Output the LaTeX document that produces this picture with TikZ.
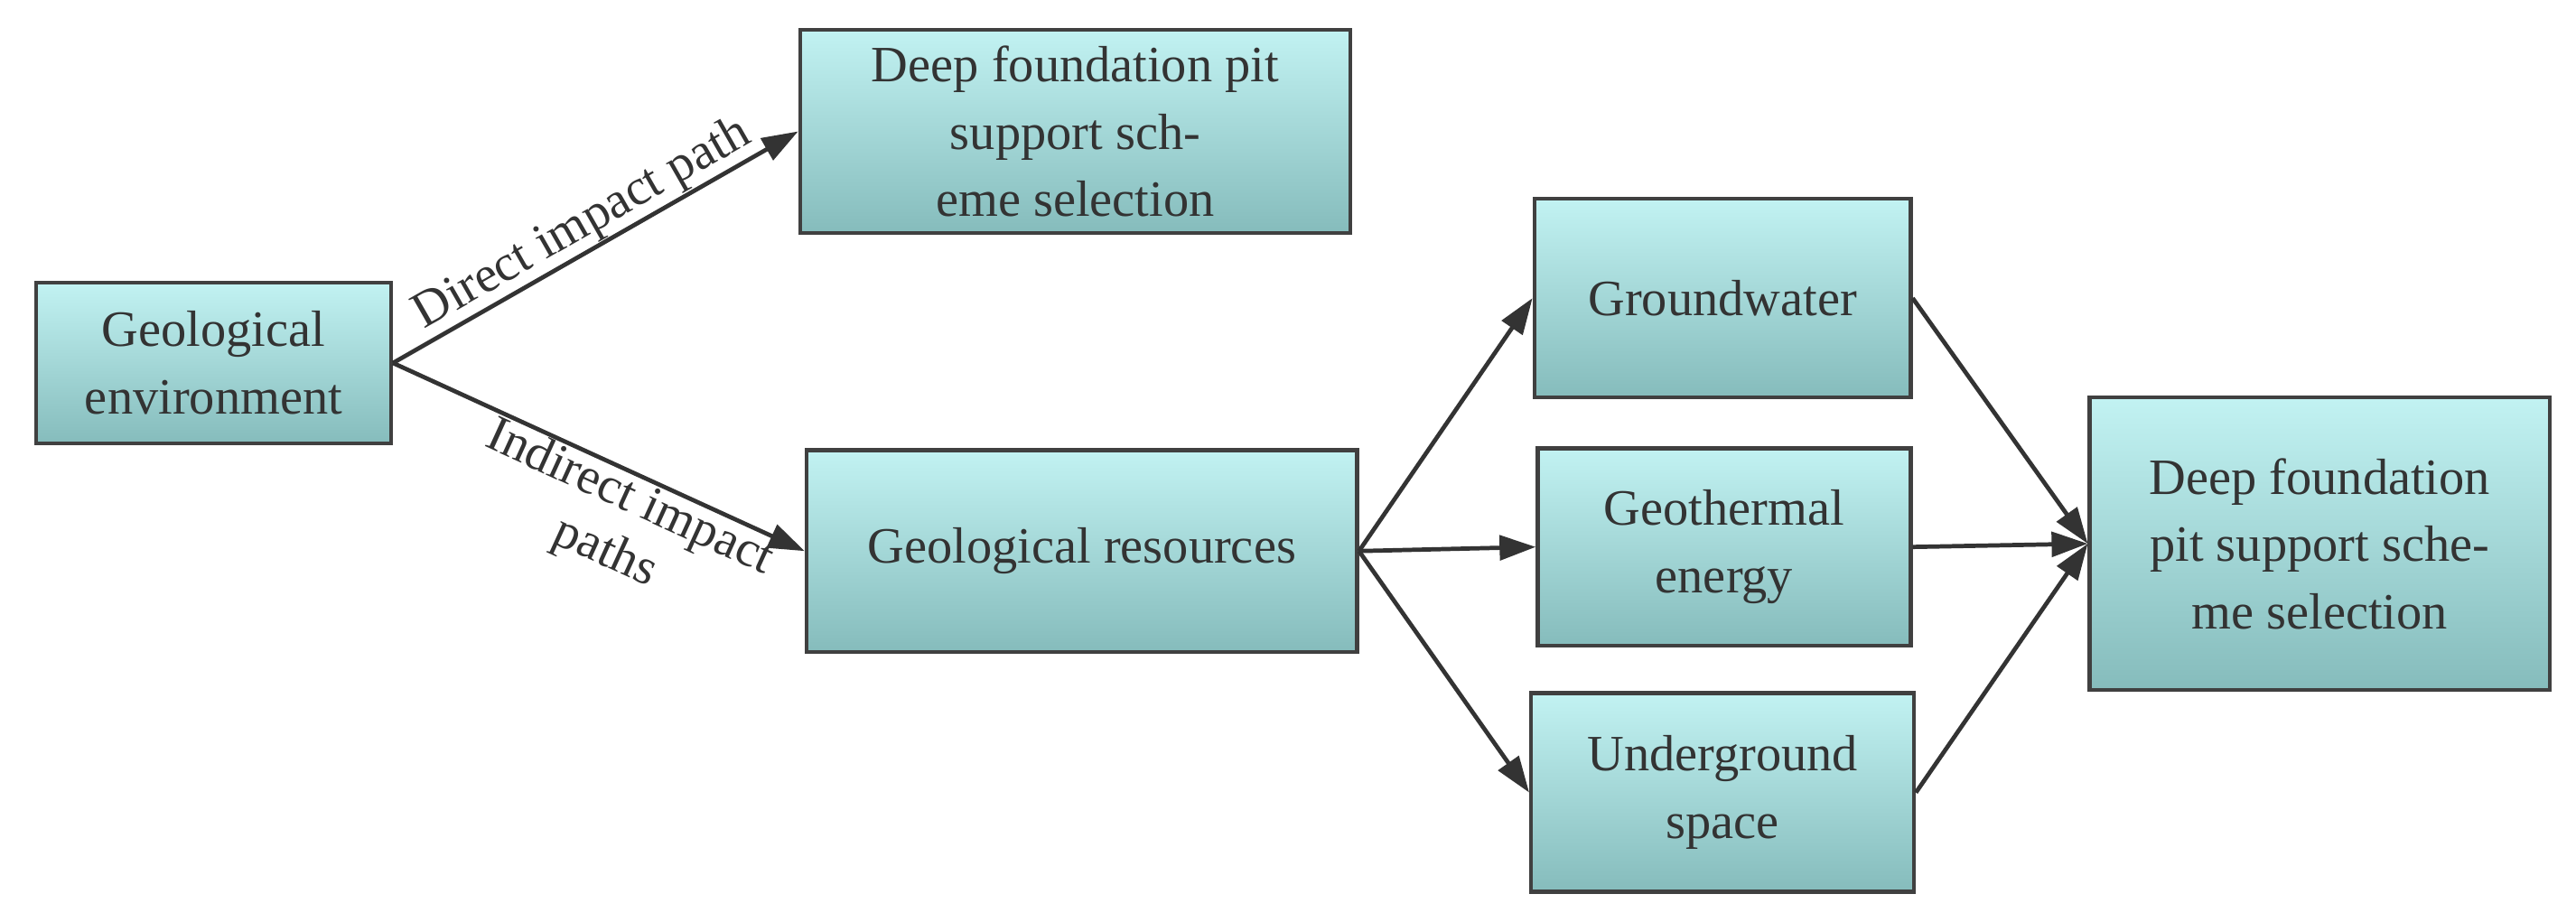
\documentclass[tikz,border=0pt]{standalone}
\usepackage{fontspec}
\setmainfont{Liberation Serif}
\usetikzlibrary{arrows.meta}
\begin{document}
\begin{tikzpicture}[x=1pt,y=-1pt,
 box/.style={draw=black!75,line width=2.4pt,top color=cyan!20!white!95!black,bottom color=teal!45!white!95!black,align=center,font=\fontsize{31}{41}\selectfont,text=black!80,inner sep=0pt},
 arr/.style={draw=black!80,line width=2.6pt,-{Triangle[length=22pt,width=15pt]}},
 lab/.style={font=\fontsize{31}{36}\selectfont,text=black!80,sloped,align=center}]
\useasboundingbox (0,0) rectangle (1568,561);
\node[box,minimum width=216pt,minimum height=98pt] (ge) at (130,221) {Geological\\environment};
\node[box,minimum width=335pt,minimum height=124pt] (top) at (654.5,80) {Deep foundation pit\\support sch-\\eme selection};
\node[box,minimum width=335pt,minimum height=123pt] (gr) at (658.5,335.5) {Geological resources};
\node[box,minimum width=229pt,minimum height=121pt] (gw) at (1048.5,181.5) {Groundwater};
\node[box,minimum width=227pt,minimum height=120pt] (gt) at (1049.5,333) {Geothermal\\energy};
\node[box,minimum width=233pt,minimum height=121pt] (us) at (1048.5,482.5) {Underground\\space};
\node[box,minimum width=280pt,minimum height=178pt] (rt) at (1412,331) {Deep foundation\\pit support sche-\\me selection};
\coordinate (gs) at (ge.east);
\coordinate (rs) at (gr.east);
\coordinate (rin) at (rt.west);
\draw[arr] (gs) -- node[lab,above=-3pt]{Direct impact path} (top.west);
\draw[arr] (gs) -- node[lab,below=-3pt,pos=0.6]{Indirect impact\\paths} (gr.west);
\draw[arr] (rs) -- (gw.west);
\draw[arr] (rs) -- (gt.west);
\draw[arr] (rs) -- (us.west);
\draw[arr] (gw.east) -- (rin);
\draw[arr] (gt.east) -- (rin);
\draw[arr] (us.east) -- (rin);
\end{tikzpicture}
\end{document}
